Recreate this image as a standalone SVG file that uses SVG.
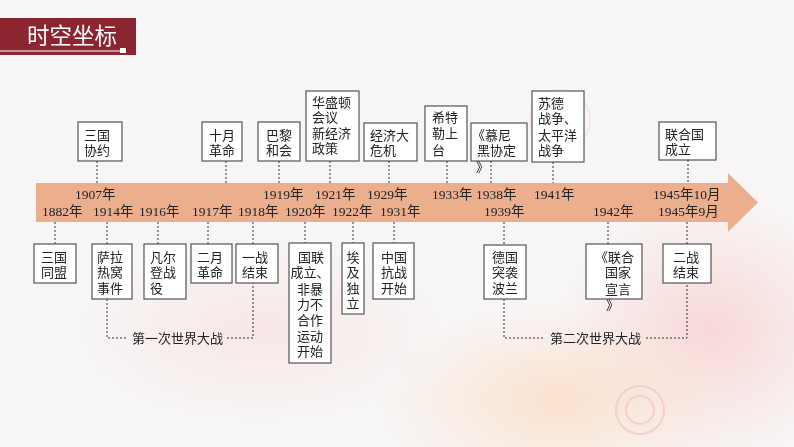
<svg xmlns="http://www.w3.org/2000/svg" width="794" height="447" viewBox="0 0 794 447">
<defs>
<radialGradient id="bg1" cx="0.5" cy="0.5" r="0.5"><stop offset="0" stop-color="#f9d6d6" stop-opacity="0.95"/><stop offset="1" stop-color="#f9d9d6" stop-opacity="0"/></radialGradient>
<radialGradient id="bg2" cx="0.5" cy="0.5" r="0.5"><stop offset="0" stop-color="#fbe0cb" stop-opacity="0.95"/><stop offset="1" stop-color="#fbe3cf" stop-opacity="0"/></radialGradient>
<style>
.box{fill:#ffffff;stroke:#555555;stroke-width:1.2}
.t{font-family:"Noto Sans CJK SC","Noto Sans",sans-serif;font-size:13px;fill:#222222}
.y{font-family:"Liberation Serif","Noto Sans CJK SC",serif;font-size:13.5px;fill:#222222}
.d{stroke:#333333;stroke-width:1;stroke-dasharray:2,2;fill:none}
</style>
</defs>
<rect x="0" y="0" width="794" height="447" fill="#f7f5f5"/>
<ellipse cx="710" cy="330" rx="150" ry="130" fill="url(#bg1)"/>
<ellipse cx="560" cy="400" rx="180" ry="95" fill="url(#bg2)"/>
<ellipse cx="260" cy="330" rx="180" ry="90" fill="url(#bg1)" opacity="0.5"/>
<g fill="none" stroke="#f1c4cc" stroke-width="2" opacity="0.7">
<circle cx="640" cy="410" r="14"/><circle cx="640" cy="410" r="24"/>
<circle cx="560" cy="120" r="30" opacity="0.4"/>
</g>
<g id="title">
<rect x="0" y="18" width="136" height="37" fill="#8b2631"/>
<line x1="0" y1="51" x2="121" y2="51" stroke="#ffffff" stroke-width="1"/>
<rect x="120" y="48" width="6" height="5" fill="#ffffff"/>
<text x="27" y="44" font-family="Noto Sans CJK SC,sans-serif" font-size="22.5" fill="#ffffff">时空坐标</text>
</g>
<g id="timeline">
<polygon points="36,183 728,183 728,173 758,202.5 728,232 728,222 36,222" fill="#ecaf8e"/>
<text class="y" x="75" y="199">1907年</text>
<text class="y" x="263" y="199">1919年</text>
<text class="y" x="315" y="199">1921年</text>
<text class="y" x="367" y="199">1929年</text>
<text class="y" x="432" y="199">1933年</text>
<text class="y" x="476" y="199">1938年</text>
<text class="y" x="534" y="199">1941年</text>
<text class="y" x="653" y="199">1945年10月</text>
<text class="y" x="42" y="216">1882年</text>
<text class="y" x="93" y="216">1914年</text>
<text class="y" x="139" y="216">1916年</text>
<text class="y" x="192" y="216">1917年</text>
<text class="y" x="238" y="216">1918年</text>
<text class="y" x="285" y="216">1920年</text>
<text class="y" x="332" y="216">1922年</text>
<text class="y" x="380" y="216">1931年</text>
<text class="y" x="484" y="216">1939年</text>
<text class="y" x="593" y="216">1942年</text>
<text class="y" x="658" y="216">1945年9月</text>
</g>
<g id="connectors">
<line class="d" x1="97" y1="161" x2="97" y2="183"/>
<line class="d" x1="226" y1="161" x2="226" y2="183"/>
<line class="d" x1="279" y1="161" x2="279" y2="183"/>
<line class="d" x1="330" y1="161" x2="330" y2="183"/>
<line class="d" x1="389" y1="161" x2="389" y2="183"/>
<line class="d" x1="447" y1="161" x2="447" y2="183"/>
<line class="d" x1="491" y1="161" x2="491" y2="183"/>
<line class="d" x1="553" y1="162" x2="553" y2="183"/>
<line class="d" x1="688" y1="160" x2="688" y2="183"/>
<line class="d" x1="55" y1="222" x2="55" y2="244"/>
<line class="d" x1="107" y1="222" x2="107" y2="244"/>
<line class="d" x1="158" y1="222" x2="158" y2="244"/>
<line class="d" x1="208" y1="222" x2="208" y2="244"/>
<line class="d" x1="253" y1="222" x2="253" y2="244"/>
<line class="d" x1="305" y1="222" x2="305" y2="243"/>
<line class="d" x1="353" y1="222" x2="353" y2="243"/>
<line class="d" x1="394" y1="222" x2="394" y2="243"/>
<line class="d" x1="504" y1="222" x2="504" y2="245"/>
<line class="d" x1="608" y1="222" x2="608" y2="244"/>
<line class="d" x1="687" y1="222" x2="687" y2="244"/>
<polyline class="d" points="107,299 107,338 128,338"/>
<polyline class="d" points="227,338 253,338 253,283"/>
<polyline class="d" points="504,299 504,338 545,338"/>
<polyline class="d" points="646,338 687,338 687,283"/>
<text class="t" x="177.5" y="342.5" text-anchor="middle">第一次世界大战</text>
<text class="t" x="595.5" y="342.5" text-anchor="middle">第二次世界大战</text>
</g>
<g id="n-sanguoxieyue"><rect class="box" x="78" y="122" width="44" height="39"/><text class="t" x="84" y="139.5">三国</text><text class="t" x="84" y="154.5">协约</text></g>
<g id="n-shiyue"><rect class="box" x="202" y="122" width="40" height="39"/><text class="t" x="209" y="139.5">十月</text><text class="t" x="209" y="154.5">革命</text></g>
<g id="n-bali"><rect class="box" x="258" y="122" width="42" height="39"/><text class="t" x="266" y="139.5">巴黎</text><text class="t" x="266" y="154.5">和会</text></g>
<g id="n-huashengdun"><rect class="box" x="306" y="91" width="53" height="70"/><text class="t" x="312" y="106.5">华盛顿</text><text class="t" x="312" y="121.5">会议</text><text class="t" x="312" y="137.5">新经济</text><text class="t" x="312" y="152.5">政策</text></g>
<g id="n-weiji"><rect class="box" x="364" y="123" width="53" height="38"/><text class="t" x="370" y="139.5">经济大</text><text class="t" x="370" y="154.5">危机</text></g>
<g id="n-xitele"><rect class="box" x="425" y="106" width="42" height="55"/><text class="t" x="432" y="121.5">希特</text><text class="t" x="432" y="137.5">勒上</text><text class="t" x="432" y="154.5">台</text></g>
<g id="n-munihei"><rect class="box" x="471" y="123" width="56" height="38"/><text class="t" x="472" y="139.5">《慕尼</text><text class="t" x="477" y="154.5">黑协定</text><text class="t" x="476" y="171.5">》</text></g>
<g id="n-sude"><rect class="box" x="532" y="91" width="52" height="71"/><text class="t" x="538" y="107.5">苏德</text><text class="t" x="538" y="122.5">战争、</text><text class="t" x="538" y="139.5">太平洋</text><text class="t" x="538" y="154.5">战争</text></g>
<g id="n-lianheguo"><rect class="box" x="659" y="122" width="57" height="38"/><text class="t" x="665" y="138.5">联合国</text><text class="t" x="665" y="153.5">成立</text></g>
<g id="n-sanguotongmeng"><rect class="box" x="34" y="244" width="42" height="39"/><text class="t" x="41" y="261.5">三国</text><text class="t" x="41" y="276.5">同盟</text></g>
<g id="n-salarewo"><rect class="box" x="92" y="244" width="40" height="55"/><text class="t" x="97" y="261.5">萨拉</text><text class="t" x="97" y="276.5">热窝</text><text class="t" x="97" y="292.5">事件</text></g>
<g id="n-fanerdeng"><rect class="box" x="144" y="244" width="42" height="55"/><text class="t" x="150" y="261.5">凡尔</text><text class="t" x="150" y="276.5">登战</text><text class="t" x="150" y="292.5">役</text></g>
<g id="n-eryue"><rect class="box" x="191" y="244" width="41" height="39"/><text class="t" x="197" y="261.5">二月</text><text class="t" x="197" y="276.5">革命</text></g>
<g id="n-yizhan"><rect class="box" x="236" y="244" width="42" height="39"/><text class="t" x="242" y="261.5">一战</text><text class="t" x="242" y="276.5">结束</text></g>
<g id="n-guolian"><rect class="box" x="289" y="243" width="42" height="120"/><g text-anchor="middle"><text class="t" x="311" y="261.5">国联</text><text class="t" x="310" y="276.5">成立、</text><text class="t" x="310" y="293.5">非暴</text><text class="t" x="310" y="308.5">力不</text><text class="t" x="310" y="324.5">合作</text><text class="t" x="310" y="340.5">运动</text><text class="t" x="310" y="355.5">开始</text></g></g>
<g id="n-aiji"><rect class="box" x="342" y="243" width="22" height="71"/><g text-anchor="middle"><text class="t" x="353" y="261.5">埃</text><text class="t" x="353" y="276.5">及</text><text class="t" x="353" y="292.5">独</text><text class="t" x="353" y="307.5">立</text></g></g>
<g id="n-zhongguo"><rect class="box" x="373" y="243" width="41" height="56"/><g text-anchor="middle"><text class="t" x="394" y="261.5">中国</text><text class="t" x="394" y="276.5">抗战</text><text class="t" x="394" y="292.5">开始</text></g></g>
<g id="n-deguo"><rect class="box" x="484" y="245" width="42" height="54"/><g text-anchor="middle"><text class="t" x="505" y="261.5">德国</text><text class="t" x="505" y="276.5">突袭</text><text class="t" x="505" y="292.5">波兰</text></g></g>
<g id="n-xuanyan"><rect class="box" x="586" y="244" width="56" height="55"/><text class="t" x="595" y="261.5">《联合</text><text class="t" x="605" y="276.5">国家</text><text class="t" x="605" y="293.5">宣言</text><text class="t" x="606" y="309.5">》</text></g>
<g id="n-erzhan"><rect class="box" x="663" y="244" width="48" height="39"/><text class="t" x="673" y="261.5">二战</text><text class="t" x="673" y="276.5">结束</text></g>
</svg>
